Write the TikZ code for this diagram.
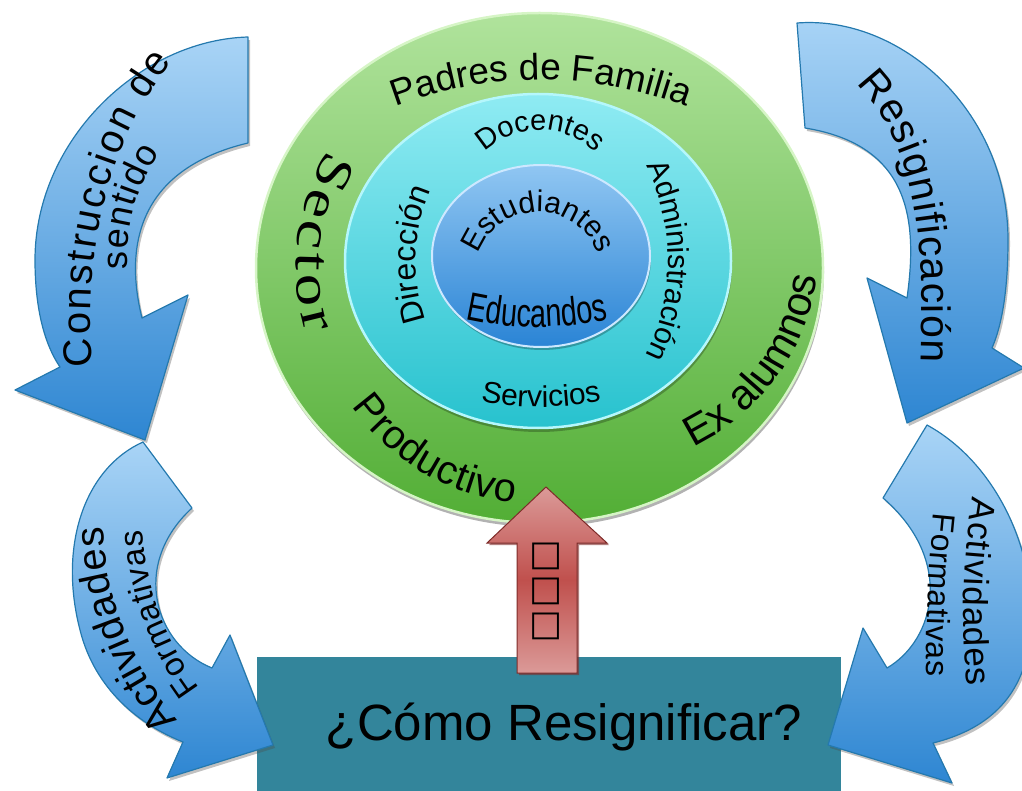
\documentclass[tikz,border=0pt]{standalone}
\usepackage{fontspec}
\setmainfont{Liberation Sans}
\newfontfamily\serifface[FakeStretch=1.3]{Liberation Serif}
\newfontfamily\symface{DejaVu Sans}
\newfontfamily\narrowface[FakeStretch=0.72]{Liberation Sans}
\usetikzlibrary{decorations.text,shadows,calc}

\definecolor{arrowtop}{HTML}{A9D4F6}
\definecolor{arrowbot}{HTML}{2E86D2}
\definecolor{arrowedge}{HTML}{2479AE}
\definecolor{greentop}{HTML}{B0E39C}
\definecolor{greenbot}{HTML}{52AE35}
\definecolor{greenrim}{HTML}{D6F5C6}
\definecolor{cyantop}{HTML}{8FEBF3}
\definecolor{cyanbot}{HTML}{27C2CE}
\definecolor{cyanrim}{HTML}{B5F7FC}
\definecolor{bluetop}{HTML}{90C6F2}
\definecolor{bluebot}{HTML}{2A84D5}
\definecolor{bluerim}{HTML}{CDE8FF}
\definecolor{redtop}{HTML}{DB9A98}
\definecolor{redmid}{HTML}{C0504D}
\definecolor{rededge}{HTML}{7E2B29}
\definecolor{boxfill}{HTML}{33859B}

\newcommand\fsPadres{\fontsize{37}{37}\selectfont}
\newcommand\fsSector{\serifface\fontsize{50}{50}\selectfont}
\newcommand\fsProd{\fontsize{40}{40}\selectfont}
\newcommand\fsEx{\fontsize{42}{42}\selectfont}
\newcommand\fsDoc{\fontsize{29}{29}\selectfont}
\newcommand\fsAdm{\fontsize{30}{30}\selectfont}
\newcommand\fsDir{\fontsize{32}{32}\selectfont}
\newcommand\fsServ{\fontsize{30}{30}\selectfont}
\newcommand\fsEst{\fontsize{30}{30}\selectfont}
\newcommand\fsEdu{\narrowface\fontsize{40}{40}\selectfont}
\newcommand\fsCons{\fontsize{40}{40}\selectfont}
\newcommand\fsSent{\fontsize{36}{36}\selectfont}
\newcommand\fsResig{\fontsize{41}{41}\selectfont}
\newcommand\fsActR{\fontsize{35}{35}\selectfont}
\newcommand\fsForR{\fontsize{32}{32}\selectfont}
\newcommand\fsActL{\fontsize{40}{40}\selectfont}
\newcommand\fsForL{\fontsize{33}{33}\selectfont}

\tikzset{
  bluearrow/.style={draw=arrowedge, line width=1.2pt, line join=round,
    top color=arrowtop, bottom color=arrowbot,
    drop shadow={shadow xshift=2pt, shadow yshift=-3pt, opacity=.35, fill=black!70}},
  greenring/.style={draw=greenrim, line width=2.5pt, top color=greentop, bottom color=greenbot,
    drop shadow={shadow xshift=1pt, shadow yshift=-4pt, opacity=.3, fill=black}},
  cyanring/.style={draw=cyanrim, line width=2.5pt, top color=cyantop, bottom color=cyanbot,
    drop shadow={shadow xshift=1pt, shadow yshift=-4pt, opacity=.25, fill=black}},
  bluering/.style={draw=bluerim, line width=2pt, top color=bluetop, bottom color=bluebot,
    drop shadow={shadow xshift=1pt, shadow yshift=-3pt, opacity=.25, fill=black}},
  redarrow/.style={draw=rededge, line width=1pt, top color=redtop, bottom color=redtop, middle color=redmid,
    drop shadow={shadow xshift=2pt, shadow yshift=-2pt, opacity=.6, fill=rededge}},
  boxstyle/.style={fill=boxfill, draw=none, inner sep=0pt},
  sqglyph/.style={font=\symface\fontsize{35}{35}\selectfont, inner sep=0pt},
  question/.style={font=\fontsize{51}{51}\selectfont, anchor=base, inner sep=0pt},
  ctext/.style={decorate, decoration={text along path, text align=center, text={#1}}},
  ftext/.style={decorate, decoration={text along path, text align={fit to path}, text={#1}}},
}

\begin{document}
\begin{tikzpicture}[x=1pt,y=1pt]
\useasboundingbox (0,0) rectangle (1022,-791);
\clip (0,0) rectangle (1022,-791);

% bottom box
\node[boxstyle, anchor=north west, minimum width=584pt, minimum height=140pt] (box) at (257,-657) {};
\node[question] (question) at (564,-740) {¿Cómo Resignificar?};

% concentric ellipses
\path[greenring] (539.5,-268) ellipse[x radius=283.5pt, y radius=255pt];
\path[cyanring] (538,-261) ellipse[x radius=193pt, y radius=167pt];
\path[bluering] (541,-256) ellipse[x radius=109pt, y radius=91pt];

% curved blue arrows
\path[bluearrow] (248,-37) .. controls (140,-40) and (35,-140) .. (35,-260)
  .. controls (35,-310) and (45,-345) .. (60,-367) -- (15,-390) -- (145,-440) -- (188,-295) -- (142,-318)
  .. controls (125,-250) and (135,-170) .. (248,-143) -- cycle;
\path[bluearrow] (143,-442) .. controls (85,-468) and (58,-545) .. (80,-630)
  .. controls (95,-690) and (140,-725) .. (183,-742) -- (167,-778) -- (273,-745) -- (230,-635) -- (212,-668)
  .. controls (155,-645) and (130,-565) .. (192,-508) -- cycle;
\path[bluearrow] (797,-23) .. controls (900,-15) and (1008,-110) .. (1008,-240)
  .. controls (1008,-290) and (1002,-325) .. (992,-348) -- (1024,-368) -- (907,-423) -- (867,-278) -- (907,-298)
  .. controls (918,-220) and (910,-145) .. (805,-128) -- cycle;
\path[bluearrow] (927,-425) .. controls (1000,-465) and (1040,-560) .. (1030,-640)
  .. controls (1022,-700) and (985,-730) .. (933,-743) -- (952,-783) -- (828,-745) -- (863,-628) -- (887,-668)
  .. controls (935,-640) and (955,-560) .. (883,-498) -- cycle;

% red up arrow
\path[redarrow] (517,-673) -- (517,-543) -- (487,-543) -- (546,-487) -- (607,-543) -- (577,-543) -- (577,-673) -- cycle;
\node[sqglyph] (sq1) at (546,-556) {□};
\node[sqglyph] (sq2) at (546,-591) {□};
\node[sqglyph] (sq3) at (546,-626) {□};

% texts on the rings
\path[ctext={|\fsPadres|Padres de Familia}] ($(541,-490)+(125:410pt)$) arc[start angle=125, end angle=55, radius=410pt];
\path[ftext={|\fsSector|Sector}] ($(539,-268)+({243*cos(150)},{236*sin(150)})$) arc[start angle=150, end angle=196, x radius=243pt, y radius=236pt];
\path[ftext={|\fsProd|Productivo}] ($(539,-268)+({232*cos(216)},{236*sin(216)})$) arc[start angle=216, end angle=264, x radius=232pt, y radius=236pt];
\path[ctext={|\fsEx|Ex alumnos}] ($(597,-247)+(-76:222pt)$) arc[start angle=-76, end angle=4, radius=222pt];
\path[ctext={|\fsDoc|Docentes}] ($(540,-210)+(150:80pt)$) arc[start angle=150, end angle=30, radius=80pt];
\path[ctext={|\fsAdm|Administración}] ($(538,-261)+({130*cos(55)},{170*sin(55)})$) arc[start angle=55, end angle=-55, x radius=130pt, y radius=170pt];
\path[ctext={|\fsDir|Dirección}] ($(538,-261)+({122*cos(215)},{150*sin(215)})$) arc[start angle=215, end angle=140, x radius=122pt, y radius=150pt];
\path[ctext={|\fsServ|Servicios}] ($(541,-104)+(255:303pt)$) arc[start angle=255, end angle=285, radius=303pt];
\path[ctext={|\fsEst|Estudiantes}] ($(538,-276)+(178:64pt)$) arc[start angle=178, end angle=2, radius=64pt];
\path[ctext={|\fsEdu|Educandos}] ($(537,0)+(255:327pt)$) arc[start angle=255, end angle=285, radius=327pt];

% texts on the arrows
\path[ftext={|\fsCons|Construccion de}] (93,-366) .. controls (84,-270) and (100,-150) .. (172,-62);
\path[ftext={|\fsSent|sentido}] (128,-269) .. controls (126,-225) and (135,-190) .. (160,-152);
\path[ftext={|\fsResig|Resignificación}] (856,-84) .. controls (905,-135) and (926,-200) .. (921,-362);
\path[ftext={|\fsActR|Actividades}] (973,-497) .. controls (962,-560) and (961,-625) .. (967,-686);
\path[ftext={|\fsForR|Formativas}] (934,-513) .. controls (928,-570) and (926,-630) .. (926,-676);
\path[ftext={|\fsActL|Actividades}] (178,-720) .. controls (135,-670) and (105,-600) .. (103,-527);
\path[ftext={|\fsForL|Formativas}] (200,-688) .. controls (168,-645) and (145,-590) .. (143,-530);
\end{tikzpicture}
\end{document}
